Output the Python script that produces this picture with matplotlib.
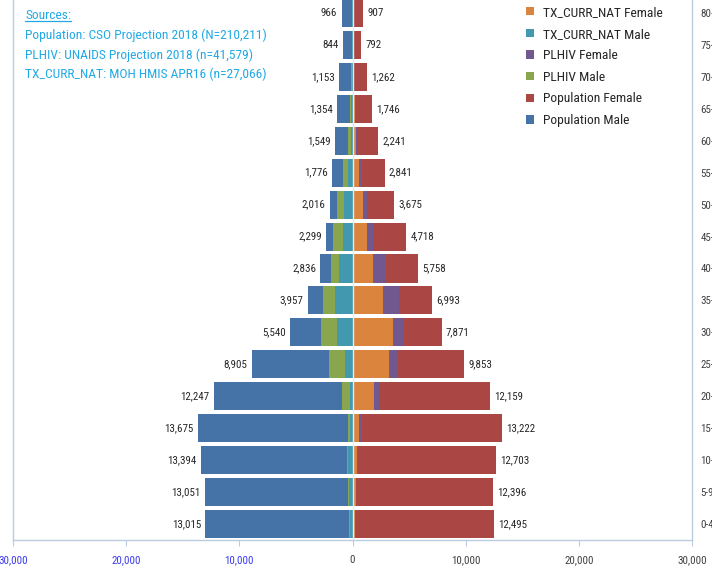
import matplotlib
matplotlib.use("Agg")
import matplotlib.pyplot as plt
from matplotlib import font_manager
from matplotlib.lines import Line2D

# ---------------- data ----------------
age_groups = ["0-4", "5-9", "10-14", "15-19", "20-24", "25-29", "30-34", "35-39",
              "40-44", "45-49", "50-54", "55-59", "60-64", "65-69", "70-74", "75-79", "80+"]
pop_male = [13015, 13051, 13394, 13675, 12247, 8905, 5540, 3957, 2836, 2299,
            2016, 1776, 1549, 1354, 1153, 844, 966]
pop_female = [12495, 12396, 12703, 13222, 12159, 9853, 7871, 6993, 5758, 4718,
              3675, 2841, 2241, 1746, 1262, 792, 907]
plhiv_male = [310, 420, 510, 420, 953, 2074, 2806, 2575, 1920, 1720,
              1394, 810, 370, 220, 110, 70, 60]
plhiv_female = [250, 340, 460, 800, 2338, 3953, 4518, 4130, 2956, 1835,
                1306, 810, 420, 250, 150, 80, 60]
tx_male = [260, 310, 370, 220, 220, 660, 1340, 1545, 1150, 838,
           776, 424, 160, 90, 60, 40, 30]
tx_female = [220, 310, 370, 600, 1870, 3194, 3574, 2665, 1835, 1306,
             926, 600, 280, 180, 100, 50, 30]
x_ticks = [-30000, -20000, -10000, 0, 10000, 20000, 30000]
x_tick_labels = ["30,000", "20,000", "10,000", "0", "10,000", "20,000", "30,000"]
source_lines = ["Sources:",
                "Population: CSO Projection 2018 (N=210,211)",
                "PLHIV: UNAIDS Projection 2018 (n=41,579)",
                "TX_CURR_NAT: MOH HMIS APR16 (n=27,066)"]

# ---------------- font ----------------
def pick_font(cands):
    for c in cands:
        try:
            font_manager.findfont(c, fallback_to_default=False)
            return c
        except Exception:
            pass
    return "DejaVu Sans"

NARROW = pick_font(["Liberation Sans Narrow", "Roboto Condensed", "Open Sans Condensed", "Arial Narrow"])
if NARROW != "DejaVu Sans":
    FONT = NARROW
    lab_fs, big_fs = 7.9, 9.7
else:
    FONT = pick_font(["Open Sans", "Noto Sans", "Liberation Sans"])
    lab_fs, big_fs = 7.4, 8.3
plt.rcParams["font.family"] = [FONT, "DejaVu Sans"]

C_BLUE = "#4572A7"
C_RED = "#AA4643"
C_GREEN = "#89A54E"
C_PURPLE = "#71588F"
C_TEAL = "#4198AF"
C_ORANGE = "#DB843D"
SPINE = "#BCCCE0"

W, H = 712, 571
fig = plt.figure(figsize=(W / 100, H / 100), dpi=100)
ax = fig.add_axes([13 / W, (H - 540) / H, (692 - 13) / W, 543 / H])

y = list(range(len(age_groups)))
bh = 0.88
neg = lambda v: [-a for a in v]

b_pm = ax.barh(y, neg(pop_male), height=bh, color=C_BLUE, zorder=2)
b_pf = ax.barh(y, pop_female, height=bh, color=C_RED, zorder=2)
b_hm = ax.barh(y, neg(plhiv_male), height=bh, color=C_GREEN, zorder=3)
b_hf = ax.barh(y, plhiv_female, height=bh, color=C_PURPLE, zorder=3)
b_tm = ax.barh(y, neg(tx_male), height=bh, color=C_TEAL, zorder=4)
b_tf = ax.barh(y, tx_female, height=bh, color=C_ORANGE, zorder=4)

ax.axvline(0, color="#E4ECF5", lw=1.0, zorder=5)

for i in y:
    ax.text(-pop_male[i] - 380, i, f"{pop_male[i]:,}", ha="right", va="center",
            fontsize=lab_fs, color="#262626")
    ax.text(pop_female[i] + 380, i, f"{pop_female[i]:,}", ha="left", va="center",
            fontsize=lab_fs, color="#262626")

ax.set_xlim(-30000, 30000)
ax.set_ylim(-0.5, 16.5)
ax.set_xticks(x_ticks)
ax.set_xticklabels(x_tick_labels, fontsize=lab_fs)
for t, v in zip(ax.get_xticklabels(), x_ticks):
    t.set_color("#3A3AF0" if v < 0 else "#404040")
ax.tick_params(axis="x", length=4, color=SPINE, pad=7)

ax.yaxis.tick_right()
ax.set_yticks(y)
ax.set_yticklabels(age_groups, fontsize=lab_fs, color="#404040")
ax.tick_params(axis="y", length=0, pad=6)

for s in ["left", "right", "bottom"]:
    ax.spines[s].set_color(SPINE)
    ax.spines[s].set_linewidth(1.0)
ax.spines["top"].set_visible(False)

# legend
handles = [b_tf, b_tm, b_hf, b_hm, b_pf, b_pm]
labels = ["TX_CURR_NAT Female", "TX_CURR_NAT Male", "PLHIV Female", "PLHIV Male",
          "Population Female", "Population Male"]
fig.legend(handles, labels, loc="upper left", bbox_to_anchor=(526 / W, 1 - 6 / H),
           frameon=False, fontsize=big_fs, handlelength=0.58, handleheight=0.58,
           handletextpad=0.67, labelspacing=0.64, borderpad=0, borderaxespad=0,
           labelcolor="#262626")

# sources text
src_color = "#22A9E6"
baselines = [19, 38.5, 58.5, 78.5]
texts = []
for line, by in zip(source_lines, baselines):
    texts.append(fig.text(25 / W, 1 - by / H, line, ha="left", va="baseline",
                          fontsize=big_fs, color=src_color))
fig.canvas.draw()
bb = texts[0].get_window_extent()
uy = (1 - baselines[0] / H) - 2.0 / H
fig.add_artist(Line2D([bb.x0 / W, bb.x1 / W], [uy, uy], transform=fig.transFigure,
                      color=src_color, lw=0.9))

fig.savefig("out.png", dpi=100)
